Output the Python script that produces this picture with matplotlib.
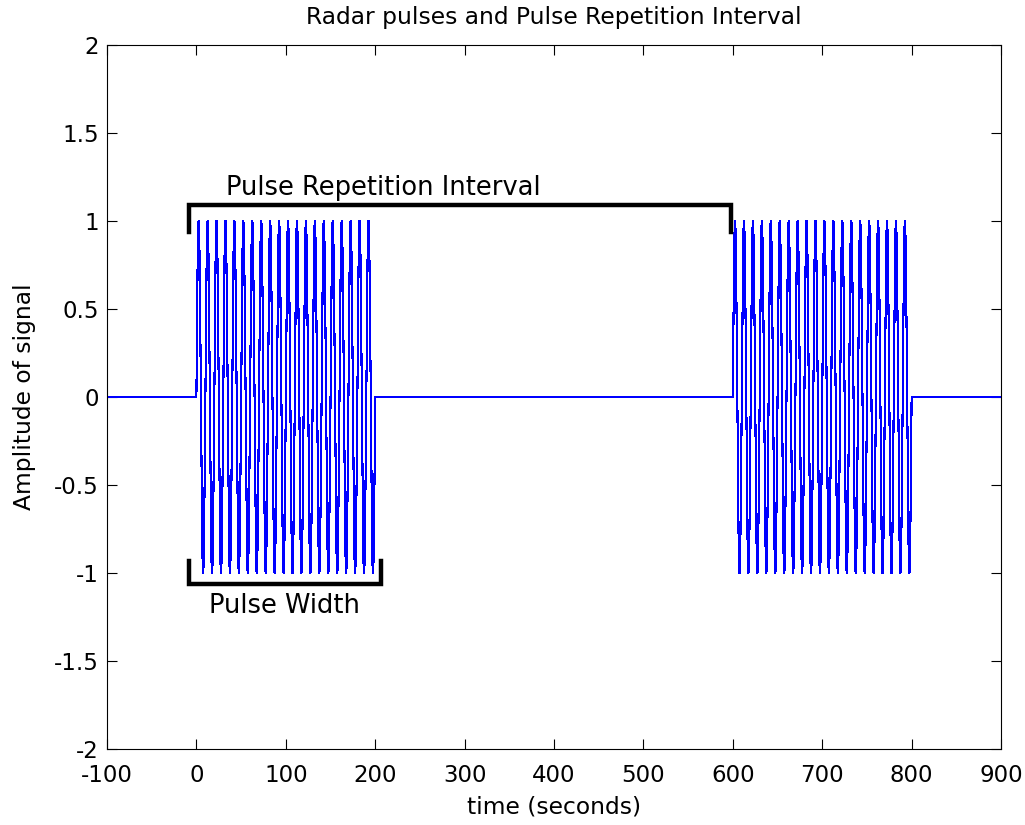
import numpy as np
import matplotlib.pyplot as plt

plt.rcParams["axes.unicode_minus"] = False
plt.rcParams["font.family"] = "DejaVu Sans"

# pulse train parameters
time_start, time_end = -100, 900
pulse_starts = [0, 600]
pulse_width = 200
carrier_freq = 0.1   # cycles per second
amplitude = 1.0
sample_step = 0.25

# annotation brackets: (x_left, x_right, y_bar, y_tip)
pri_bracket = (-8, 598, 1.09, 0.94)
pw_bracket = (-8, 206, -1.06, -0.93)
pri_label = "Pulse Repetition Interval"
pw_label = "Pulse Width"

t = np.arange(time_start, time_end + sample_step, sample_step)
signal = np.zeros_like(t)
for start in pulse_starts:
    on = (t > start) & (t < start + pulse_width)
    signal[on] = amplitude * np.sin(2 * np.pi * carrier_freq * (t[on] - start))

fig = plt.figure(figsize=(10.25, 8.25), dpi=100)
ax = fig.add_axes([107 / 1025, 1 - 749 / 825, 894 / 1025, 704 / 825])
ax.plot(t, signal, color="#0000ff", linewidth=0.8, antialiased=False)

for x0, x1, yb, ytip in [pri_bracket, pw_bracket]:
    ax.plot([x0, x0, x1, x1], [ytip, yb, yb, ytip], color="black",
            linewidth=3.2, solid_joinstyle="miter")

ax.text(33, 1.19, pri_label, fontsize=18.5, va="center", ha="left")
ax.text(14, -1.19, pw_label, fontsize=18.5, va="center", ha="left")

ax.set_xlim(time_start, time_end)
ax.set_ylim(-2, 2)
ax.set_xticks(np.arange(-100, 901, 100))
ax.set_yticks(np.arange(-2, 2.01, 0.5))
ax.set_yticklabels(["-2", "-1.5", "-1", "-0.5", "0", "0.5", "1", "1.5", "2"])
ax.tick_params(direction="in", top=True, right=True, length=7,
               labelsize=16.5, pad=6)
ax.tick_params(axis="x", pad=11)
ax.set_title("Radar pulses and Pulse Repetition Interval", fontsize=16.8, pad=15)
ax.set_xlabel("time (seconds)", fontsize=16.8, labelpad=6)
ax.set_ylabel("Amplitude of signal", fontsize=16.8, labelpad=13)

fig.savefig("out.png", dpi=100)
